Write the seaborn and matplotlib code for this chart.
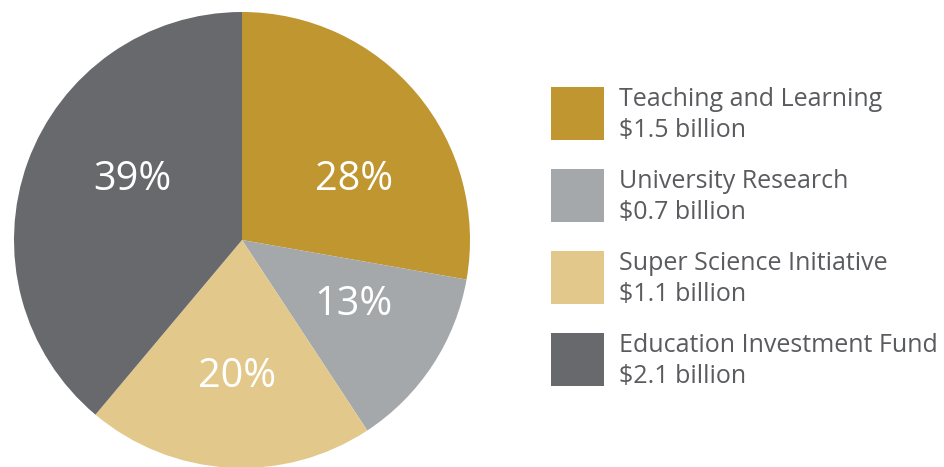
import matplotlib
matplotlib.use("Agg")
import matplotlib.pyplot as plt
import seaborn as sns
from matplotlib.patches import Rectangle

sns.set_theme(style="white")
plt.rcParams["font.family"] = ["Open Sans", "DejaVu Sans"]

# Funding programs (billions of dollars)
programs = ["Teaching and Learning", "University Research",
            "Super Science Initiative", "Education Investment Fund"]
amounts = [1.5, 0.7, 1.1, 2.1]
amount_labels = ["$1.5 billion", "$0.7 billion", "$1.1 billion", "$2.1 billion"]
pct_labels = ["28%", "13%", "20%", "39%"]
colors = ["#BF962F", "#A5A8AB", "#E2C98B", "#68696D"]

W, H = 944, 467
fig = plt.figure(figsize=(W / 100, H / 100), dpi=100)
ax = fig.add_axes([0, 0, 1, 1])

cx, cy, r = 242, H - 240, 228
wedges, _ = ax.pie(amounts, colors=colors, startangle=90, counterclock=False,
                   center=(cx, cy), radius=r, frame=True,
                   wedgeprops=dict(linewidth=0))
ax.set_xlim(0, W)
ax.set_ylim(0, H)
ax.set_aspect("equal")
ax.axis("off")

# Percentage labels inside the slices (x, baseline y from the top)
pct_pos = [(354, 190), (353, 315), (237, 387), (132, 190)]
for txt, (x, y) in zip(pct_labels, pct_pos):
    ax.text(x, H - y, txt, color="white", fontsize=28.5, fontweight="medium",
            ha="center", va="baseline")

# Legend: colour swatch with program name and amount
text_color = "#5A5B5E"
for i, (name, amt, w) in enumerate(zip(programs, amount_labels, wedges)):
    top = 87 + i * 82
    ax.add_patch(Rectangle((551, H - top - 53), 53, 53,
                           facecolor=w.get_facecolor(), linewidth=0))
    ax.text(619, H - (top + 19), name, color=text_color, fontsize=18,
            ha="left", va="baseline")
    ax.text(619, H - (top + 50), amt.replace("$", r"\$"), color=text_color,
            fontsize=18, ha="left", va="baseline")

fig.savefig("out.png", dpi=100, facecolor="white")
